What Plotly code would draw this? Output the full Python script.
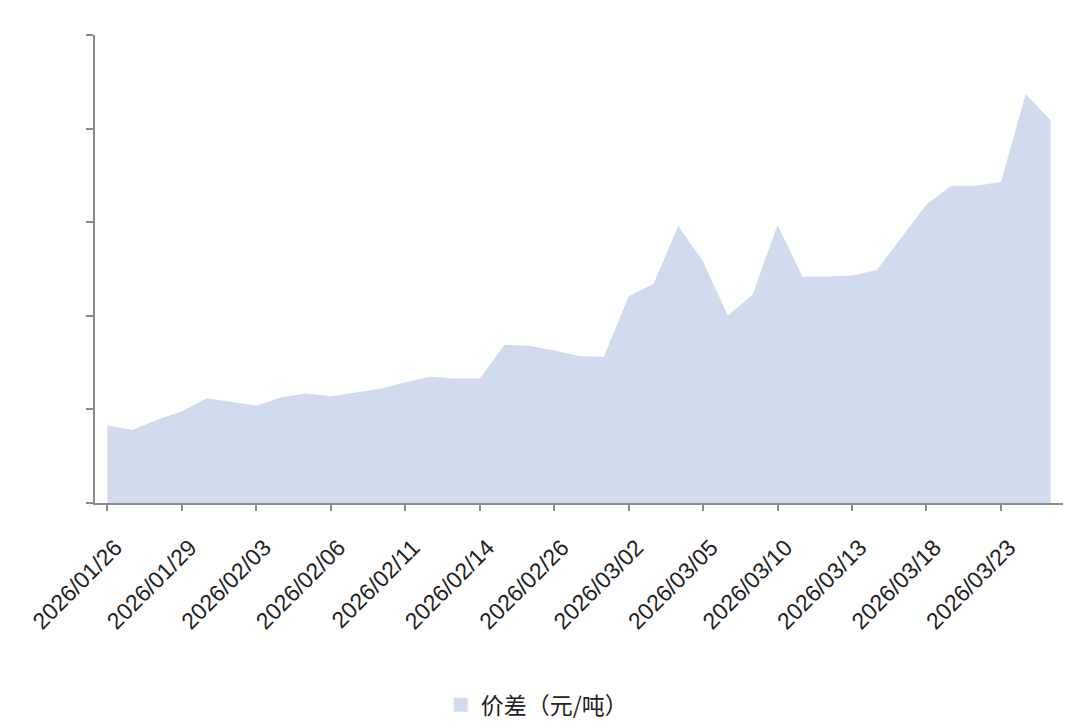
import plotly.graph_objects as go

dates = [
    "2026/01/26", "2026/01/27", "2026/01/28", "2026/01/29", "2026/01/30",
    "2026/02/02", "2026/02/03", "2026/02/04", "2026/02/05", "2026/02/06",
    "2026/02/09", "2026/02/10", "2026/02/11", "2026/02/12", "2026/02/13",
    "2026/02/14", "2026/02/24", "2026/02/25", "2026/02/26", "2026/02/27",
    "2026/02/28", "2026/03/02", "2026/03/03", "2026/03/04", "2026/03/05",
    "2026/03/06", "2026/03/09", "2026/03/10", "2026/03/11", "2026/03/12",
    "2026/03/13", "2026/03/16", "2026/03/17", "2026/03/18", "2026/03/19",
    "2026/03/20", "2026/03/23", "2026/03/24", "2026/03/25",
]
spread = [
    83, 78, 89, 98, 112, 108, 104, 113, 117, 114,
    118, 122, 129, 135, 133, 133, 169, 168, 163, 157,
    156, 221, 234, 296, 258, 200, 223, 297, 242, 242,
    243, 249, 284, 319, 339, 339, 343, 437, 409,
]
series_name = "价差（元/吨）"
tick_labels = dates[::3]
y_ticks = [0, 100, 200, 300, 400, 500]

fill_color = "rgb(208,220,238)"

fig = go.Figure()
fig.add_trace(go.Scatter(
    x=dates, y=spread, mode="lines", fill="tozeroy",
    line=dict(width=0, color=fill_color),
    fillcolor=fill_color,
    name=series_name, legendgroup="s", showlegend=False,
))
# legend entry with a square swatch
fig.add_trace(go.Scatter(
    x=[None], y=[None], mode="markers",
    marker=dict(symbol="square", size=14, color=fill_color),
    name=series_name, legendgroup="s", showlegend=True,
))

axis_color = "#8a8a8a"
fig.update_layout(
    width=1080, height=728,
    margin=dict(l=87, r=25, t=27, b=233),
    paper_bgcolor="white", plot_bgcolor="white",
    font=dict(family="Liberation Sans, Noto Sans CJK SC, sans-serif", color="#222"),
    showlegend=True,
    legend=dict(
        orientation="h", xref="container", yref="container",
        x=0.49, xanchor="center", y=0.043, yanchor="middle",
        itemwidth=30,
        font=dict(size=23, family="Noto Sans CJK SC, sans-serif", color="#222"),
    ),
    xaxis=dict(
        type="category", categoryorder="array", categoryarray=dates,
        range=[-0.5, len(dates) - 0.5],
        tickmode="array", tickvals=tick_labels, ticktext=tick_labels,
        tickangle=-45, tickfont=dict(size=23, color="#222"),
        ticklabelstandoff=14, ticklabelshift=8,
        ticks="outside", ticklen=6, tickwidth=2, tickcolor=axis_color,
        showline=True, linecolor=axis_color, linewidth=2,
        showgrid=False, zeroline=False,
    ),
    yaxis=dict(
        range=[0, 500], tickvals=y_ticks, showticklabels=False,
        ticks="outside", ticklen=7, tickwidth=2, tickcolor=axis_color,
        showline=True, linecolor=axis_color, linewidth=2,
        showgrid=False, zeroline=False,
    ),
)

fig.write_html("out.html")
